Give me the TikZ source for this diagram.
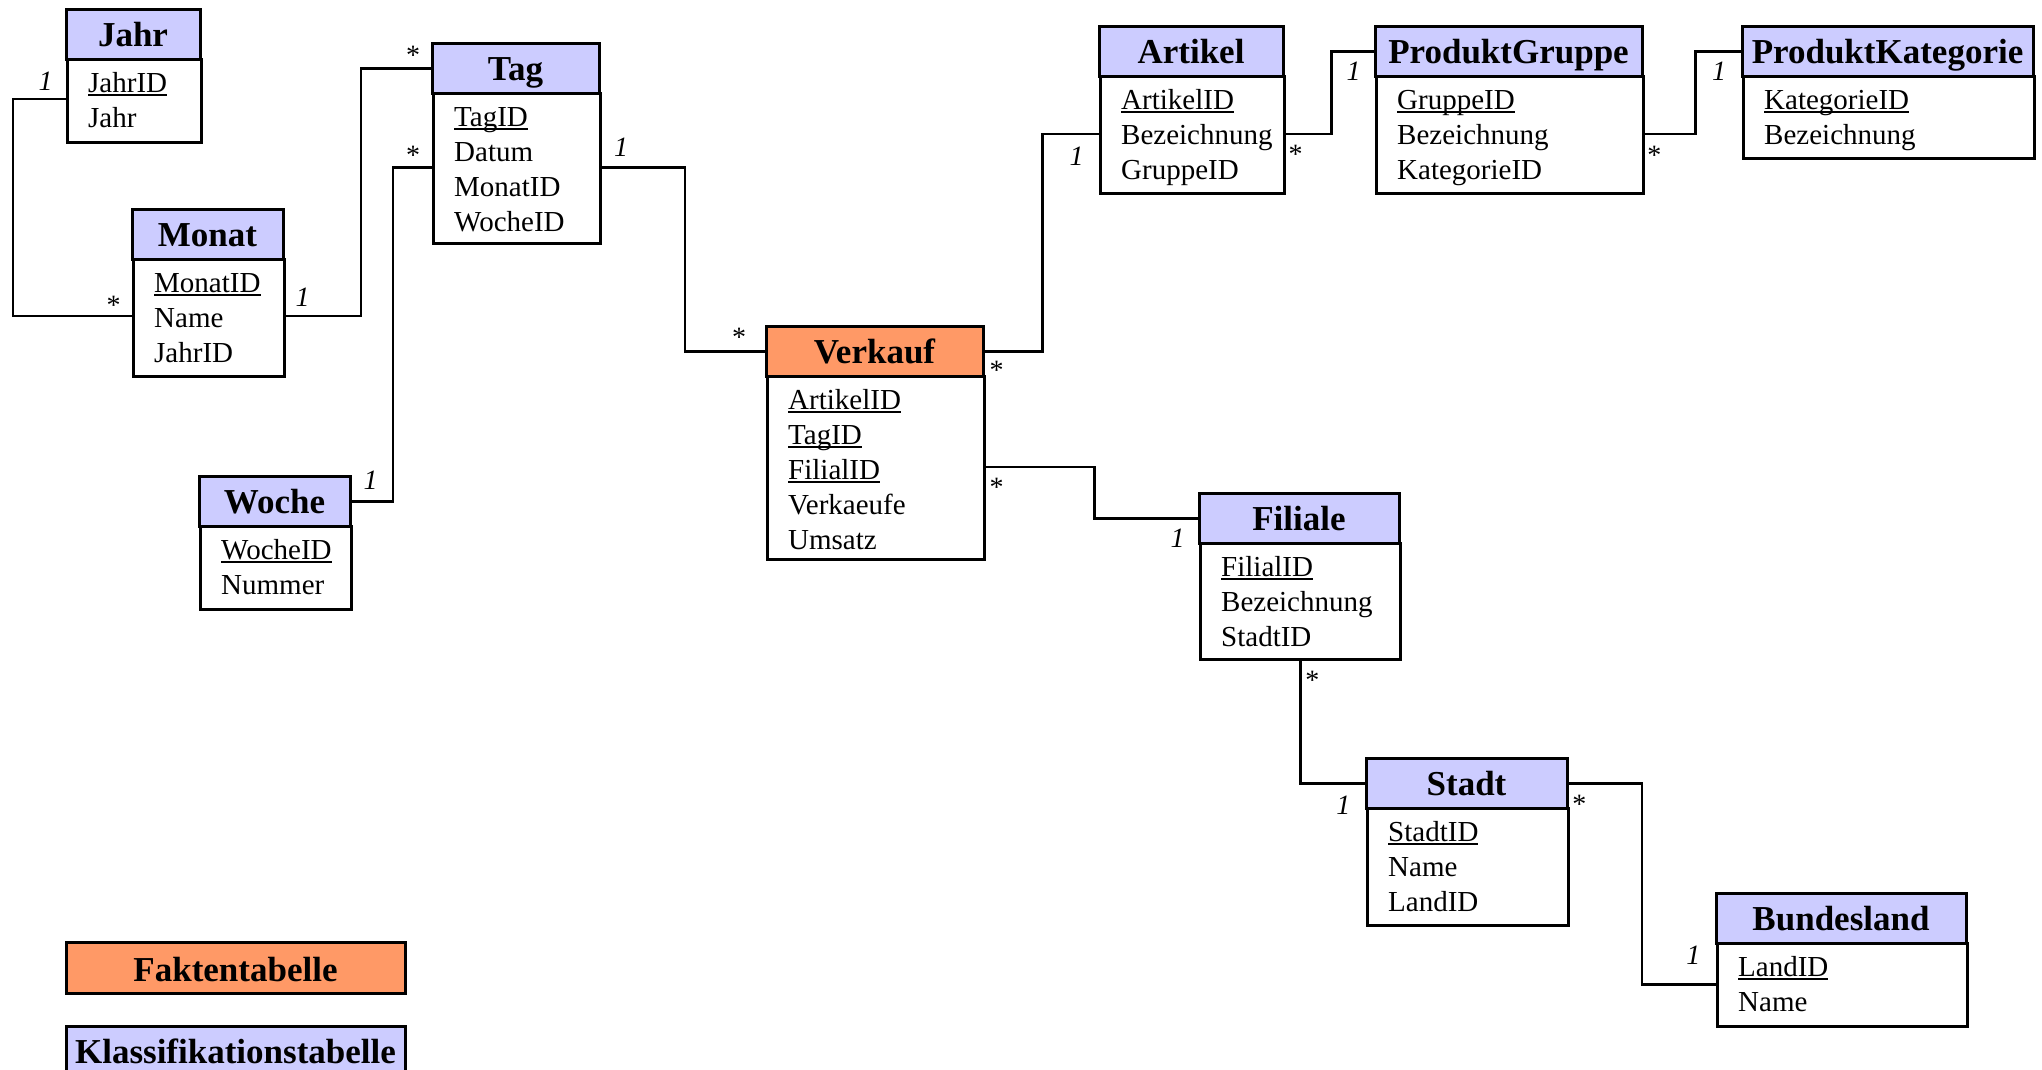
\documentclass[tikz,border=0pt]{standalone}
\usepackage{fontspec}
\setmainfont{Liberation Serif}
\definecolor{klass}{HTML}{CCCCFF}
\definecolor{fakt}{HTML}{FF9966}
\newcommand\hdrfont{\fontsize{35}{42}\selectfont\bfseries}
\newcommand\rowfont{\fontsize{29}{35}\selectfont}
\newcommand\lblfont{\fontsize{28}{32}\selectfont}
\newcommand\keyfield[1]{\setbox0=\hbox{#1}\rlap{\rule[-4pt]{\wd0}{1.8pt}}\box0}
\newcommand\ertable[8]{%
  \pgfmathsetmacro\erw{#3-#2}%
  \pgfmathsetmacro\erh{#5-#4-50}%
  \pgfmathsetmacro\erc{(#2+#3)/2}%
  \node[bodybox, minimum width=\erw pt, minimum height=\erh pt] (#1-b) at (#2,#4+50) {};
  \node[headbox, fill=#7, minimum width=\erw pt] (#1-h) at (\erc,#4) {#6};
  \foreach \r [count=\i] in {#8} {
    \node[rowtext] (#1-r\i) at (#2+22, #4+84+35*\i-35) {\r};
  }
}
\tikzset{
  bodybox/.style={draw, line width=3pt, fill=white, anchor=north west, inner sep=0pt},
  headbox/.style={draw, line width=3pt, anchor=north, inner sep=0pt, text height=37pt, text depth=13pt, font=\hdrfont},
  rowtext/.style={anchor=base west, inner sep=0pt, font=\rowfont},
  conn/.style={line width=2.8pt},
  one/.style={font=\lblfont\itshape, inner sep=0pt, anchor=center},
  many/.style={font=\lblfont, inner sep=0pt, anchor=base},
}
\begin{document}
\begin{tikzpicture}[x=1pt, y=-1pt]
\useasboundingbox[fill=white] (0,0) rectangle (2042,1069);

\ertable{jahr}{66}{200}{8}{141}{Jahr}{klass}{{\keyfield{JahrID}},Jahr}
\ertable{tag}{432}{599}{42}{242}{Tag}{klass}{{\keyfield{TagID}},Datum,MonatID,WocheID}
\ertable{monat}{132}{283}{208}{375}{Monat}{klass}{{\keyfield{MonatID}},Name,JahrID}
\ertable{woche}{199}{350}{475}{608}{Woche}{klass}{{\keyfield{WocheID}},Nummer}
\ertable{verkauf}{766}{983}{325}{558}{Verkauf}{fakt}{{\keyfield{ArtikelID}},{\keyfield{TagID}},{\keyfield{FilialID}},Verkaeufe,Umsatz}
\ertable{artikel}{1099}{1283}{25}{192}{Artikel}{klass}{{\keyfield{ArtikelID}},Bezeichnung,GruppeID}
\ertable{pg}{1375}{1642}{25}{192}{ProduktGruppe}{klass}{{\keyfield{GruppeID}},Bezeichnung,KategorieID}
\ertable{pk}{1742}{2033}{25}{157}{ProduktKategorie}{klass}{{\keyfield{KategorieID}},Bezeichnung}
\ertable{filiale}{1199}{1399}{492}{658}{Filiale}{klass}{{\keyfield{FilialID}},Bezeichnung,StadtID}
\ertable{stadt}{1366}{1567}{757}{924}{Stadt}{klass}{{\keyfield{StadtID}},Name,LandID}
\ertable{bl}{1716}{1966}{892}{1025}{Bundesland}{klass}{{\keyfield{LandID}},Name}

% connectors
\draw[conn] ([yshift=-41pt]jahr-b.north west) -- ++(-53,0) |- ([yshift=-58pt]monat-b.north west);
\draw[conn] ([yshift=-58pt]monat-b.north east) -- ++(75,0) |- (tag-h.west);
\draw[conn] (woche-h.east) -- ++(41.5,0) |- ([yshift=-75.5pt]tag-b.north west);
\draw[conn] ([yshift=-75.5pt]tag-b.north east) -- ++(83,0) |- (verkauf-h.west);
\draw[conn] (verkauf-h.east) -- ++(58,0) |- ([yshift=-59pt]artikel-b.north west);
\draw[conn] ([yshift=-59pt]artikel-b.north east) -- ++(45.5,0) |- (pg-h.west);
\draw[conn] ([yshift=-59pt]pg-b.north east) -- ++(50.4,0) |- (pk-h.west);
\draw[conn] ([yshift=-92pt]verkauf-b.north east) -- ++(108.4,0) |- (filiale-h.west);
\draw[conn] (filiale-b.south) |- (stadt-h.west);
\draw[conn] (stadt-h.east) -- ++(73.4,0) |- ([yshift=-42.3pt]bl-b.north west);

% multiplicities
\node[one] (m1) at (45.5,81.7) {1};
\node[many] (m2) at (113.5,314.7) {*};
\node[one] (m3) at (302.5,297.7) {1};
\node[many] (m4) at (413,64.7) {*};
\node[one] (m5) at (370.5,480.2) {1};
\node[many] (m6) at (413,164.7) {*};
\node[one] (m7) at (621,147.5) {1};
\node[many] (m8) at (739,346) {*};
\node[many] (m9) at (996.7,379.7) {*};
\node[one] (m10) at (1076.6,156.7) {1};
\node[many] (m11) at (1295.6,163.5) {*};
\node[one] (m12) at (1353.5,71) {1};
\node[many] (m13) at (1654.4,164.7) {*};
\node[one] (m14) at (1719,71.7) {1};
\node[many] (m15) at (996.7,496.3) {*};
\node[one] (m16) at (1177.5,538.3) {1};
\node[many] (m17) at (1312.4,689.7) {*};
\node[one] (m18) at (1343.4,805) {1};
\node[many] (m19) at (1579.3,813) {*};
\node[one] (m20) at (1693.4,955) {1};

% legend
\node[headbox, fill=fakt, minimum width=339pt, text height=39pt, text depth=12pt] (legf) at (235.5,941) {Faktentabelle};
\node[headbox, fill=klass, minimum width=339pt] (legk) at (235.5,1025) {Klassifikationstabelle};
\end{tikzpicture}
\end{document}
